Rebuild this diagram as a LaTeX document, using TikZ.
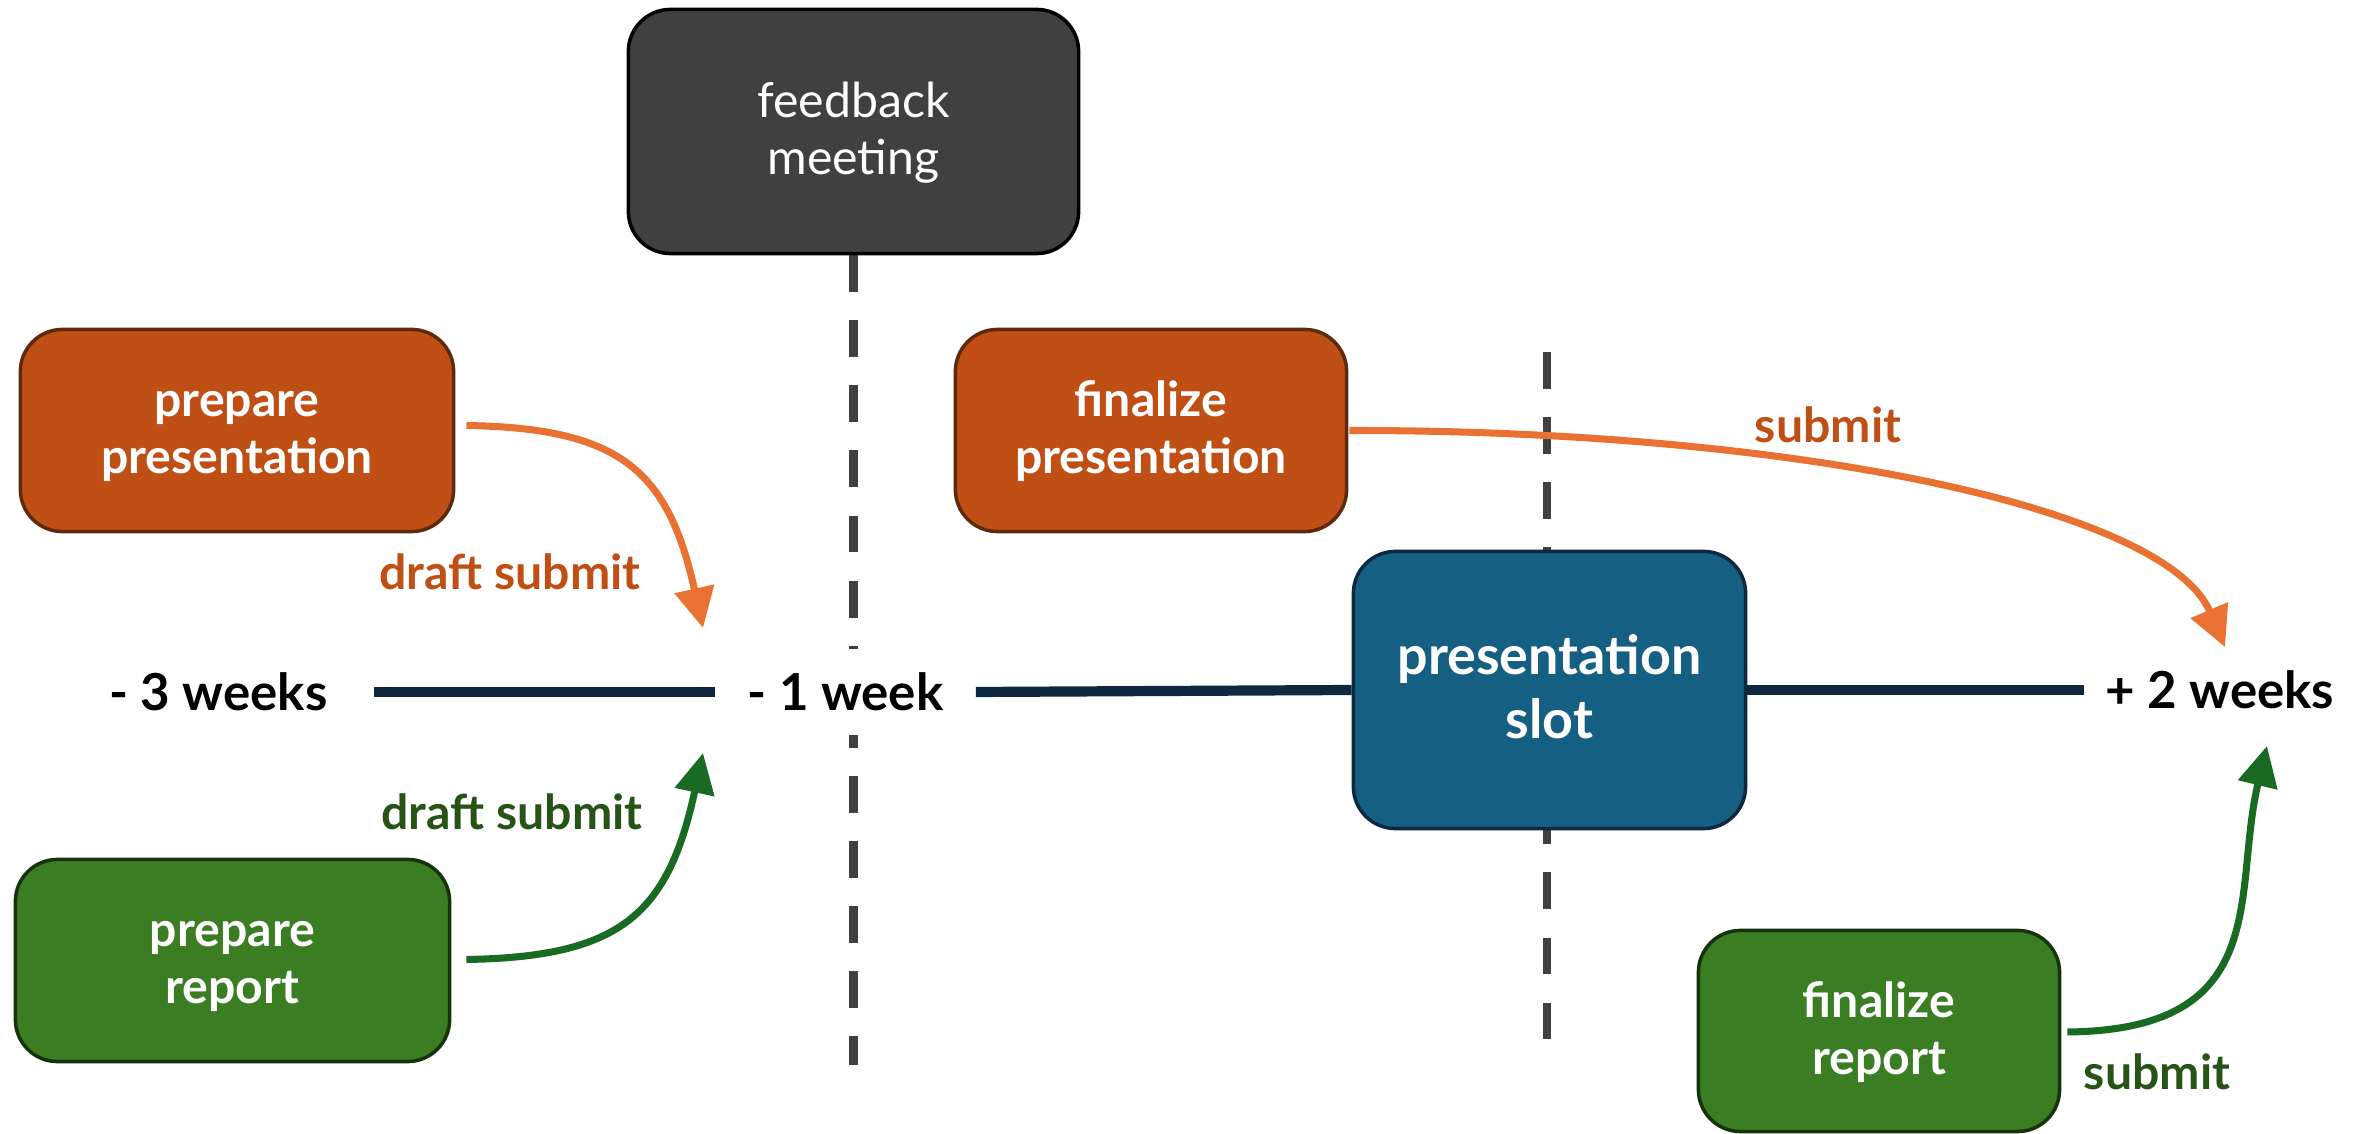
\documentclass[tikz,border=0pt]{standalone}
\usepackage{fontspec}
\setmainfont{Lato}
\usetikzlibrary{arrows.meta,backgrounds}
\definecolor{ofill}{HTML}{C04F15}
\definecolor{oborder}{HTML}{5E2A0E}
\definecolor{oarrowc}{HTML}{E97132}
\definecolor{otext}{HTML}{C04F15}
\definecolor{gfill}{HTML}{3A7D22}
\definecolor{gborder}{HTML}{15340D}
\definecolor{garrowc}{HTML}{196B24}
\definecolor{gtext}{HTML}{275317}
\definecolor{bfill}{HTML}{156082}
\definecolor{bborder}{HTML}{0E2841}
\definecolor{navy}{HTML}{0E2841}
\definecolor{fbfill}{HTML}{404040}
\definecolor{dashc}{HTML}{404040}
\newcommand\bts{\rule{0pt}{0.84em}}
\newcommand\bbs{\rule[-0.22em]{0pt}{0.22em}}
\begin{document}
\begin{tikzpicture}[x=0.01cm,y=-0.01cm,
  box/.style={rounded corners=0.42cm, line width=1pt, align=center, text=white,
    font=\bfseries\fontsize{13.7pt}{16.2pt}\selectfont, inner sep=0pt},
  tl/.style={font=\bfseries\fontsize{14.5pt}{17pt}\selectfont, inner sep=0pt, text=black},
  lbl/.style={font=\bfseries\fontsize{13.7pt}{16.2pt}\selectfont, inner sep=0pt},
  oarrow/.style={draw=oarrowc, line width=2pt, -{Triangle[length=11.4pt,width=11.1pt]}},
  garrow/.style={draw=garrowc, line width=2pt, -{Triangle[length=11.4pt,width=11.1pt]}},
  dline/.style={draw=dashc, line width=2.5pt, dash pattern=on 10.5pt off 8pt},
  tline/.style={draw=navy, line width=2.9pt}
]
\useasboundingbox (0,0) rectangle (2368,1134);

% boxes
\node[box, fill=fbfill, draw=black, minimum width=4.5cm, minimum height=2.44cm,
  font=\fontsize{13.7pt}{16.2pt}\selectfont] (fb) at (853.5,131.5) {\bts feedback\\meeting\bbs};
\node[box, fill=ofill, draw=oborder, minimum width=4.33cm, minimum height=2.02cm] (pp) at (237,430.5) {\bts prepare\\presentation\bbs};
\node[box, fill=ofill, draw=oborder, minimum width=3.91cm, minimum height=2.02cm] (fp) at (1151,430.5) {\bts finalize\\presentation\bbs};
\node[box, fill=gfill, draw=gborder, minimum width=4.34cm, minimum height=2.02cm] (pr) at (232.5,960.5) {\bts prepare\\report\bbs};
\node[box, fill=gfill, draw=gborder, minimum width=3.61cm, minimum height=2.01cm] (fr) at (1879,1031) {\bts finalize\\report\bbs};
\node[box, fill=bfill, draw=bborder, minimum width=3.92cm, minimum height=2.77cm,
  font=\bfseries\fontsize{15.3pt}{18.2pt}\selectfont] (slot) at (1549.5,690) {\bts presentation\\slot\bbs};

% timeline labels
\node[tl, minimum width=3.09cm] (m3) at (218.5,692) {- 3 weeks};
\node[tl, fill=white, minimum width=2.59cm, minimum height=0.85cm] (m1) at (845.5,692) {- 1 week};
\node[tl, minimum width=2.7cm] (p2) at (2220,690) {+ 2 weeks};

% arrow labels
\node[lbl, text=otext] (l1) at (510,572) {draft submit};
\node[lbl, text=gtext] (l2) at (512,812) {draft submit};
\node[lbl, text=otext] (l3) at (1828,425) {submit};
\node[lbl, text=gtext] (l4) at (2157,1072) {submit};

% free ends
\coordinate (d1) at (853.5,1065);
\coordinate (d2a) at (1547,352);
\coordinate (d2b) at (1547,1042);
\coordinate (t1) at (703,628);
\coordinate (t2) at (703,753);
\coordinate (t3) at (2225,647);
\coordinate (t4) at (2267,746);

\begin{scope}[on background layer]
  \fill[white] (0,0) rectangle (2368,1134);
  \draw[dline] (fb.south) -- (d1);
  \draw[dline] (d2a) -- (d2b);
  \draw[tline] (m3.east) -- (m1.west);
  \draw[tline] (m1.east) -- (slot.west);
  \draw[tline] (slot.east) -- (p2.west);
\end{scope}

% connectors
\draw[oarrow] ([shift={(11,-5)}]pp.east) .. controls (620,428) and (668,470) .. (t1);
\draw[garrow] ([shift={(15,-1)}]pr.east) .. controls (620,957) and (668,915) .. (t2);
\draw[oarrow] ([shift={(1,0)}]fp.east) .. controls (1798,430) and (2166,509) .. (t3);
\draw[garrow] ([shift={(6,1)}]fr.east) .. controls (2275,1030) and (2232,892) .. (t4);
\end{tikzpicture}
\end{document}
